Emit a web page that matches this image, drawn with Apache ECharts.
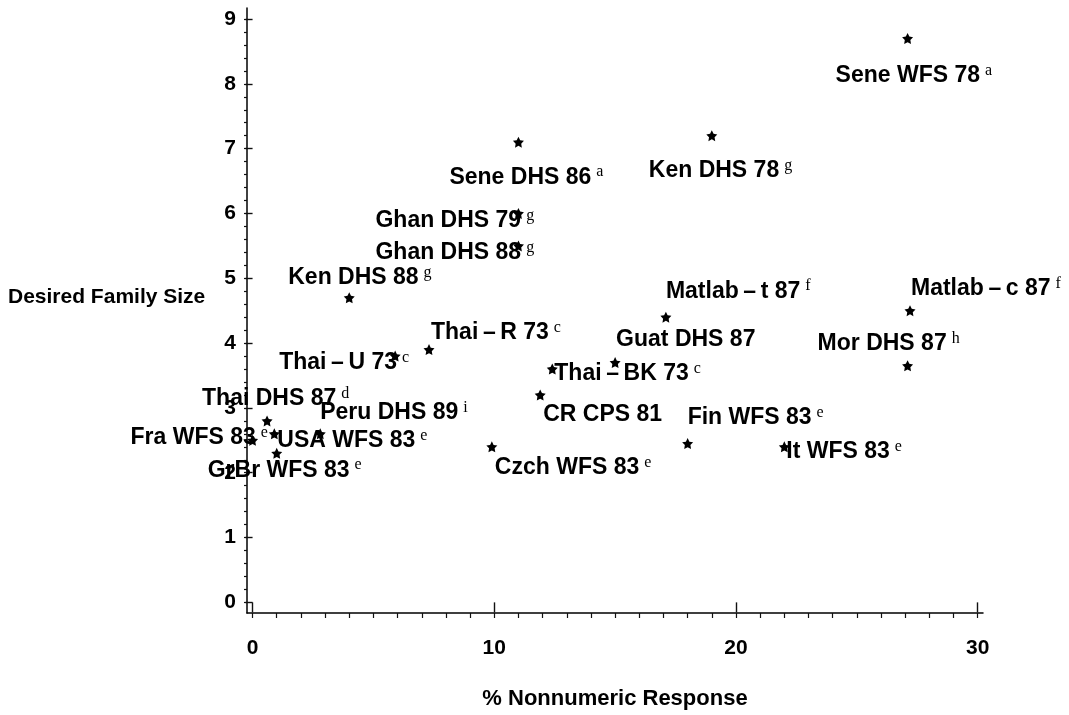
<!DOCTYPE html>
<html><head><meta charset="utf-8">
<script src="https://cdn.jsdelivr.net/npm/echarts@6/dist/echarts.min.js"></script>
<style>html,body{margin:0;padding:0;background:#fff}#c{width:1069px;height:715px}</style>
</head><body><div id="c"></div>
<script>
// ---------------- DATA ----------------
const surveyLabels = [
  'Sene WFS 78', 'Sene DHS 86', 'Ken DHS 78', 'Ghan DHS 79', 'Ghan DHS 88',
  'Ken DHS 88', 'Matlab\u2009–\u2009t 87', 'Matlab\u2009–\u2009c 87', 'Thai\u2009–\u2009R 73', 'Thai\u2009–\u2009U 73',
  'Guat DHS 87', 'Mor DHS 87', 'Thai\u2009–\u2009BK 73', 'CR CPS 81', 'Thai DHS 87',
  'Peru DHS 89', 'Fra WFS 83', 'USA WFS 83', 'GrBr WFS 83', 'Czch WFS 83',
  'Fin WFS 83', 'It WFS 83'
];
const footnotes = [
  'a', 'a', 'g', 'g', 'g',
  'g', 'f', 'f', 'c', 'c',
  '', 'h', 'c', '', 'd',
  'i', 'e', 'e', 'e', 'e',
  'e', 'e'
];
const nonnumericPct = [
  27.1, 11.0, 19.0, 11.0, 11.0,
  4.0, 17.1, 27.2, 7.3, 5.9,
  15.0, 27.1, 12.4, 11.9, 0.6,
  2.8, 0.0, 0.9, 1.0, 9.9,
  18.0, 22.0
];
const desiredSize = [
  8.7, 7.1, 7.2, 6.0, 5.5,
  4.7, 4.4, 4.5, 3.9, 3.8,
  3.7, 3.65, 3.6, 3.2, 2.8,
  2.6, 2.5, 2.6, 2.3, 2.4,
  2.45, 2.4
];
const xTickLabels = [0, 10, 20, 30];
const yTickLabels = [0, 1, 2, 3, 4, 5, 6, 7, 8, 9];
const xAxisTitle = '% Nonnumeric Response';
const yAxisTitle = 'Desired Family Size';

// ---------------- STYLE ----------------
// label placement: [dx, dy] from marker centre to label's left edge / vertical middle
const labelPlacement = {
  'Sene WFS 78': [-72, 37], 'Sene DHS 86': [-69, 35], 'Ken DHS 78': [-63, 35],
  'Ghan DHS 79': [-143, 7], 'Ghan DHS 88': [-143, 7], 'Ken DHS 88': [-61, -20],
  'Matlab\u2009–\u2009t 87': [0, -26], 'Matlab\u2009–\u2009c 87': [1, -22], 'Thai\u2009–\u2009R 73': [2, -17],
  'Thai\u2009–\u2009U 73': [-116, 7], 'Guat DHS 87': [1, -23], 'Mor DHS 87': [-90, -22],
  'Thai\u2009–\u2009BK 73': [2, 5], 'CR CPS 81': [3, 20], 'Thai DHS 87': [-65, -22],
  'Peru DHS 89': [0, -21], 'Fra WFS 83': [-122, -3], 'USA WFS 83': [3, 7],
  'GrBr WFS 83': [-69, 17], 'Czch WFS 83': [3, 21], 'Fin WFS 83': [0, -26],
  'It WFS 83': [2, 5]
};
const SANS = "'Liberation Sans', Arial, Helvetica, sans-serif";
const SERIF = "'Liberation Serif', 'DejaVu Serif', 'Times New Roman', serif";
const starPath = 'path://M0,-10L3,-4.1L9.5,-3.1L4.8,1.6L5.9,8.1L0,5.1L-5.9,8.1L-4.8,1.6L-9.5,-3.1L-3,-4.1Z';

const X_MIN = -0.23, X_MAX = 30.22, Y_MIN = -0.164, Y_MAX = 9.17;
const xMinorTicks = []; for (let i = 0; i <= 30; i++) xMinorTicks.push(i);
const yMinorTicks = []; for (let i = 0; i <= 45; i++) yMinorTicks.push(Math.round(i * 2) / 10);

const points = surveyLabels.map((name, i) => {
  const off = labelPlacement[name] || [4, 0];
  const txt = '{n|' + name + '}' + (footnotes[i] ? '{s|' + footnotes[i] + '}' : '');
  return {
    name: name,
    value: [nonnumericPct[i], desiredSize[i]],
    label: { formatter: txt, offset: off }
  };
});

const chart = echarts.init(document.getElementById('c'), null, { renderer: 'canvas' });
chart.setOption({
  backgroundColor: '#ffffff',
  animation: false,
  grid: { left: 247, right: 86, top: 8, bottom: 102, containLabel: false },
  xAxis: [
    {
      type: 'value', min: X_MIN, max: X_MAX,
      name: xAxisTitle, nameLocation: 'middle', nameGap: 75,
      nameTextStyle: { fontFamily: SANS, fontSize: 22, fontWeight: 'bold', color: '#000' },
      axisLine: { show: true, onZero: false, lineStyle: { color: '#000', width: 1.5 } },
      axisTick: { show: true, length: 5, customValues: xMinorTicks, lineStyle: { color: '#111', width: 1.2 } },
      axisLabel: { customValues: xTickLabels, margin: 25, fontFamily: SANS, fontSize: 21, fontWeight: 'bold', color: '#000' },
      splitLine: { show: false }
    },
    {
      type: 'value', min: X_MIN, max: X_MAX, position: 'bottom', offset: 0,
      axisLine: { show: false },
      axisTick: { show: true, length: 10, customValues: xTickLabels, lineStyle: { color: '#111', width: 1.4 } },
      axisLabel: { show: false },
      splitLine: { show: false }
    }
  ],
  yAxis: [
    {
      type: 'value', min: Y_MIN, max: Y_MAX,
      axisLine: { show: true, onZero: false, lineStyle: { color: '#000', width: 1.5 } },
      axisTick: { show: true, length: 3, customValues: yMinorTicks, lineStyle: { color: '#111', width: 1.2 } },
      axisLabel: { customValues: yTickLabels, margin: 11, fontFamily: SANS, fontSize: 21, fontWeight: 'bold', color: '#000' },
      splitLine: { show: false }
    },
    {
      type: 'value', min: Y_MIN, max: Y_MAX, position: 'left', offset: 0,
      axisLine: { show: false },
      axisTick: { show: true, length: 7, customValues: yTickLabels, lineStyle: { color: '#111', width: 1.4 } },
      axisLabel: { show: false },
      splitLine: { show: false }
    }
  ],
  graphic: [
    {
      type: 'text', left: 8, top: 287,
      style: { text: yAxisTitle, fontFamily: SANS, fontSize: 21, fontWeight: 'bold', fill: '#000' }
    }
  ],
  series: [{
    type: 'scatter',
    xAxisIndex: 0, yAxisIndex: 0,
    symbol: starPath, symbolSize: 11,
    itemStyle: { color: '#000', opacity: 1 },
    data: points,
    label: {
      show: true, position: 'inside', align: 'left', verticalAlign: 'middle',
      color: '#000', textBorderWidth: 0, opacity: 1,
      rich: {
        n: { fontFamily: SANS, fontSize: 23, fontWeight: 'bold', color: '#000', lineHeight: 26, textBorderWidth: 0 },
        s: { fontFamily: SERIF, fontSize: 16, color: '#000', verticalAlign: 'top', lineHeight: 15, padding: [0, 0, 0, 5], textBorderWidth: 0 }
      }
    },
    emphasis: { disabled: true }
  }]
});
</script></body></html>
